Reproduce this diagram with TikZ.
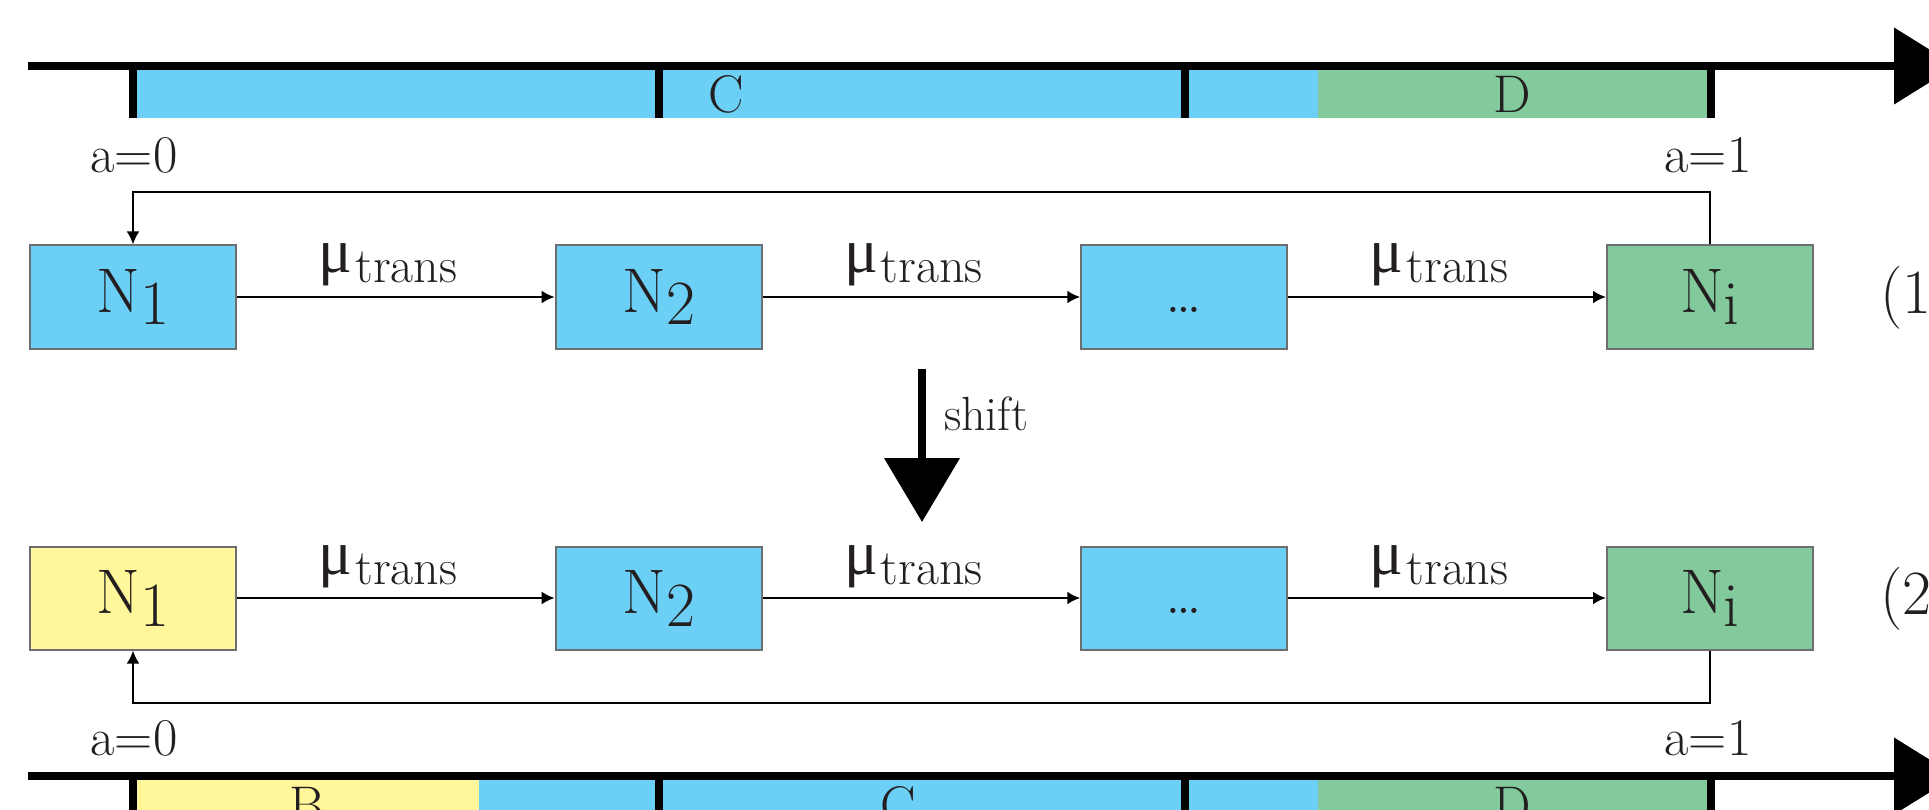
\documentclass[tikz,border=0pt]{standalone}
\usepackage{fontspec}
\newfontfamily\mufont{Liberation Serif}
\usetikzlibrary{arrows.meta}
\definecolor{cblue}{HTML}{6CCFF6}
\definecolor{cgreen}{HTML}{82CA9C}
\definecolor{cyellow}{HTML}{FFF799}
\definecolor{ink}{HTML}{231F20}
\definecolor{edgegray}{HTML}{6D6E71}
\newcommand\bigfont{\fontsize{63pt}{70pt}\selectfont}
\newcommand\midfont{\fontsize{53pt}{60pt}\selectfont}
\newcommand\shiftfont{\fontsize{48pt}{56pt}\selectfont}
\newcommand\transfont{\fontsize{50pt}{58pt}\selectfont}
\newcommand\mulabel{{\mufont\bigfont\raisebox{10pt}{μ}}\hspace{3pt}{\transfont trans}}
\newcommand\Nsub[1]{N\raisebox{-13pt}{#1}}
\begin{document}
\begin{tikzpicture}[x=1pt,y=-1pt,
  every node/.style={text=ink},
  box/.style={draw=edgegray, line width=2pt, minimum width=206pt, minimum height=103pt,
    inner sep=0pt, text height=40pt, text depth=10pt, font=\bigfont},
  flow/.style={line width=2.5pt, -{Latex[length=13pt,width=13pt]}},
  axisline/.style={line width=8pt, -{Triangle[length=62pt,width=75pt]}},
  tickmark/.style={line width=8pt},
  lbl/.style={anchor=base, yshift=14pt, xshift=-8pt, inner sep=0pt},
  barlabel/.style={anchor=base, inner sep=0pt, font=\midfont},
  alabel/.style={anchor=base, inner sep=0pt, font=\midfont},
  eqlabel/.style={anchor=base west, inner sep=0pt, font=\bigfont}]
\useasboundingbox (0,0) rectangle (1929,810);

% ---- top timeline
\fill[cblue] (133,70) rectangle (1318,118);
\fill[cgreen] (1318,70) rectangle (1711,118);
\foreach \x in {133,659,1185,1711} \draw[tickmark] (\x,66) -- (\x,118);
\draw[axisline] (28,66) -- (1956,66);
\node[barlabel] (tC) at (726,113) {C};
\node[barlabel] (tD) at (1512,113) {D};
\node[alabel] (ta0) at (134,173) {a=0};
\node[alabel] (ta1) at (1708,173) {a=1};

% ---- row 1
\node[box, fill=cblue] (n11) at (133,297) {\Nsub{1}};
\node[box, fill=cblue] (n12) at (658.7,297) {\Nsub{2}};
\node[box, fill=cblue] (n13) at (1184.3,297) {\ldots};
\node[box, fill=cgreen] (n14) at (1710,297) {\Nsub{i}};
\draw[flow] (n11) -- node[lbl] (m11) {\mulabel} (n12);
\draw[flow] (n12) -- node[lbl] (m12) {\mulabel} (n13);
\draw[flow] (n13) -- node[lbl] (m13) {\mulabel} (n14);
\draw[flow] (n14.north) -- ++(0,-52.5) -| (n11.north);
\node[eqlabel] (eq1) at (1880,313) {(1)};

% ---- shift arrow
\coordinate (s0) at (922,369);
\coordinate (s1) at (922,522);
\draw[line width=8pt, -{Triangle[length=64pt,width=74pt]}] (s0) -- (s1);
\node[anchor=base west, inner sep=0pt, font=\shiftfont] (shiftlbl) at (944,430) {shift};

% ---- row 2
\node[box, fill=cyellow] (n21) at (133,598) {\Nsub{1}};
\node[box, fill=cblue] (n22) at (658.7,598) {\Nsub{2}};
\node[box, fill=cblue] (n23) at (1184.3,598) {\ldots};
\node[box, fill=cgreen] (n24) at (1710,598) {\Nsub{i}};
\draw[flow] (n21) -- node[lbl] (m21) {\mulabel} (n22);
\draw[flow] (n22) -- node[lbl] (m22) {\mulabel} (n23);
\draw[flow] (n23) -- node[lbl] (m23) {\mulabel} (n24);
\draw[flow] (n24.south) -- ++(0,52.5) -| (n21.south);
\node[eqlabel] (eq2) at (1880,614) {(2)};

% ---- bottom timeline
\node[alabel] (ba0) at (134,755) {a=0};
\node[alabel] (ba1) at (1708,755) {a=1};
\fill[cyellow] (133,780) rectangle (479,830);
\fill[cblue] (479,780) rectangle (1318,830);
\fill[cgreen] (1318,780) rectangle (1711,830);
\foreach \x in {133,659,1185,1711} \draw[tickmark] (\x,776) -- (\x,830);
\draw[axisline] (28,776) -- (1956,776);
\node[barlabel] (bB) at (307,823) {B};
\node[barlabel] (bC) at (898,823) {C};
\node[barlabel] (bD) at (1512,823) {D};
\end{tikzpicture}
\end{document}
